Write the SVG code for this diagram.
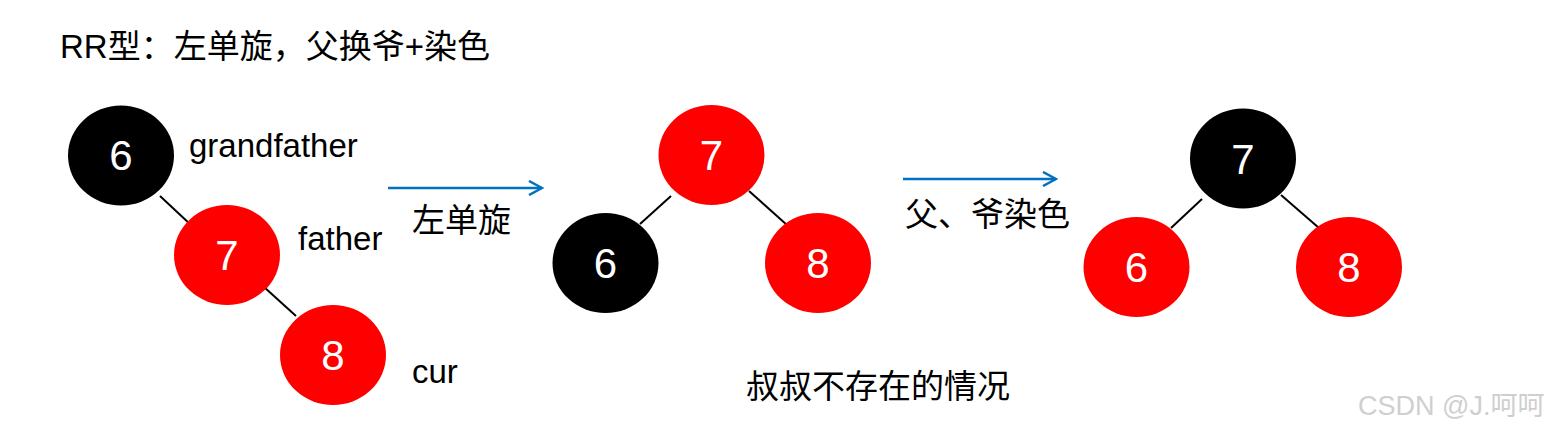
<svg xmlns="http://www.w3.org/2000/svg" width="1555" height="433" viewBox="0 0 1555 433">
<style>
.lbl{font-family:"Liberation Sans","Noto Sans CJK SC",sans-serif;font-size:33px;fill:#000}
.num{font-family:"Liberation Sans",sans-serif;font-size:42px;fill:#fff;text-anchor:middle}
.red{fill:#ff0000}
.blk{fill:#000}
.edge{stroke:#000;stroke-width:2;fill:none}
.arrow{stroke:#0070c0;stroke-width:2.5;fill:none}
.wm{font-family:"Liberation Sans","Noto Sans CJK SC",sans-serif;font-size:27px;fill:#cfcfcf}
</style>
<defs>
<marker id="ah" viewBox="0 0 16 16" refX="14" refY="8" markerWidth="16" markerHeight="16" markerUnits="userSpaceOnUse" orient="auto">
<path d="M1,1 L14,8 L1,15" fill="none" stroke="#0070c0" stroke-width="2.5"/>
</marker>
</defs>
<rect width="1555" height="433" fill="#fff"/>
<text class="lbl" x="60" y="58">RR型：左单旋，父换爷+染色</text>

<g id="connectors">
<line class="edge" x1="160" y1="196" x2="191" y2="225"/>
<line class="edge" x1="264" y1="287" x2="296" y2="316"/>
<line class="edge" x1="671" y1="196" x2="640" y2="224"/>
<line class="edge" x1="749" y1="191" x2="787" y2="225"/>
<line class="edge" x1="1202" y1="199" x2="1171" y2="228"/>
<line class="edge" x1="1281" y1="195" x2="1319" y2="228"/>
<line class="arrow" x1="388" y1="188" x2="542" y2="188" marker-end="url(#ah)"/>
<line class="arrow" x1="903" y1="179" x2="1056" y2="179" marker-end="url(#ah)"/>
</g>

<g id="l6"><ellipse class="blk" cx="121" cy="155.5" rx="53" ry="50"/><text class="num" x="121" y="170">6</text></g>
<g id="l7"><ellipse class="red" cx="227" cy="255" rx="53" ry="50"/><text class="num" x="227" y="270">7</text></g>
<g id="l8"><ellipse class="red" cx="333" cy="355" rx="53" ry="50"/><text class="num" x="333" y="370">8</text></g>
<text class="lbl" x="189" y="157">grandfather</text>
<text class="lbl" x="298" y="250">father</text>
<text class="lbl" x="412" y="383">cur</text>

<text class="lbl" x="412" y="232">左单旋</text>

<g id="m7"><ellipse class="red" cx="711.5" cy="155" rx="53" ry="50"/><text class="num" x="711.5" y="170">7</text></g>
<g id="m6"><ellipse class="blk" cx="605.5" cy="263" rx="53" ry="50"/><text class="num" x="605.5" y="278">6</text></g>
<g id="m8"><ellipse class="red" cx="818" cy="263" rx="53" ry="50"/><text class="num" x="818" y="278">8</text></g>

<text class="lbl" x="905" y="226">父、爷染色</text>

<g id="r7"><ellipse class="blk" cx="1243" cy="158.5" rx="53" ry="50"/><text class="num" x="1243" y="173.5">7</text></g>
<g id="r6"><ellipse class="red" cx="1136.5" cy="267" rx="53" ry="50"/><text class="num" x="1136.5" y="282">6</text></g>
<g id="r8"><ellipse class="red" cx="1349" cy="267" rx="53" ry="50"/><text class="num" x="1349" y="282">8</text></g>

<text class="lbl" x="746" y="398">叔叔不存在的情况</text>
<text class="wm" x="1358" y="415">CSDN @J.呵呵</text>
</svg>
